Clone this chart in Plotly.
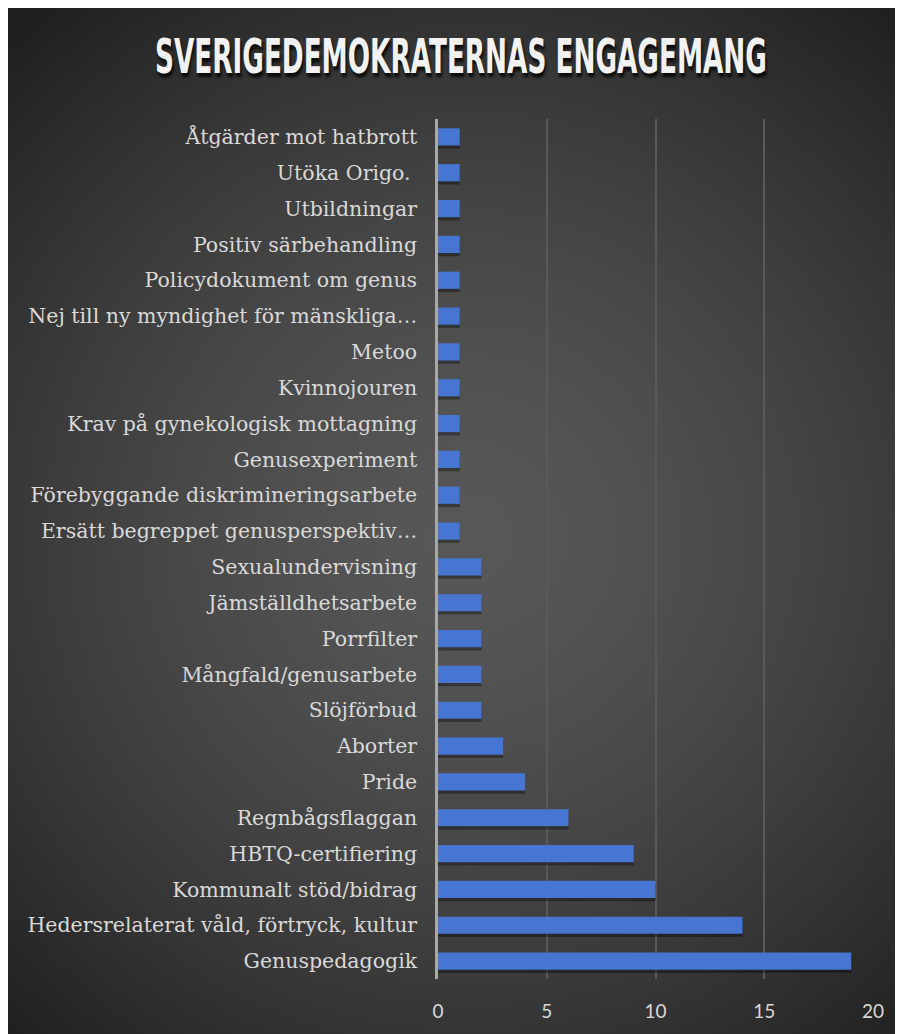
import base64, struct, zlib
import numpy as np
import plotly.graph_objects as go

# Data (bottom to top, as in the chart)
categories = [
    "Genuspedagogik",
    "Hedersrelaterat våld, förtryck, kultur",
    "Kommunalt stöd/bidrag",
    "HBTQ-certifiering",
    "Regnbågsflaggan",
    "Pride",
    "Aborter",
    "Slöjförbud",
    "Mångfald/genusarbete",
    "Porrfilter",
    "Jämställdhetsarbete",
    "Sexualundervisning",
    "Ersätt begreppet genusperspektiv…",
    "Förebyggande diskrimineringsarbete",
    "Genusexperiment",
    "Krav på gynekologisk mottagning",
    "Kvinnojouren",
    "Metoo",
    "Nej till ny myndighet för mänskliga…",
    "Policydokument om genus",
    "Positiv särbehandling",
    "Utbildningar",
    "Utöka Origo.\u00a0",
    "Åtgärder mot hatbrott",
]
values = [19, 14, 10, 9, 6, 4, 3, 2, 2, 2, 2, 2, 1, 1, 1, 1, 1, 1, 1, 1, 1, 1, 1, 1]
x_ticks = [0, 5, 10, 15, 20]
title_text = "SVERIGEDEMOKRATERNAS ENGAGEMANG"

# Figure geometry (figure pixels; page has an 8px body margin)
FW, FH = 903, 1034
ML, MR, MT, MB = 430, 38, 111, 63
PW, PH = FW - ML - MR, FH - MT - MB

# Radial gradient background covering the whole figure
W, H = 226, 259
xs = np.linspace(0, FW, W)
ys = np.linspace(0, FH, H)
XX, YY = np.meshgrid(xs, ys)
cx, cy = 462, 530
R = 690.0
d = np.clip(np.sqrt((XX - cx) ** 2 + (YY - cy) ** 2) / R, 0, 1)
v = 31 + 57 * (1 - d ** 1.5)
arr = np.repeat(v[:, :, None], 3, axis=2).astype(np.uint8)

def chunk(tag, data):
    return struct.pack(">I", len(data)) + tag + data + struct.pack(">I", zlib.crc32(tag + data) & 0xffffffff)

raw = b"".join(b"\x00" + arr[i].tobytes() for i in range(H))
png = (b"\x89PNG\r\n\x1a\n"
       + chunk(b"IHDR", struct.pack(">IIBBBBB", W, H, 8, 2, 0, 0, 0))
       + chunk(b"IDAT", zlib.compress(raw, 9))
       + chunk(b"IEND", b""))
src = "data:image/png;base64," + base64.b64encode(png).decode()

bar_w = 0.48

fig = go.Figure()
# soft shadow
fig.add_trace(go.Bar(
    x=values, y=categories, orientation="h",
    marker=dict(color="rgba(0,0,0,0.35)", line=dict(width=0)),
    width=bar_w, offset=-bar_w / 2 - 0.09, hoverinfo="skip", showlegend=False,
))
fig.add_trace(go.Bar(
    x=values, y=categories, orientation="h",
    marker=dict(color="#4675d2", line=dict(width=0)),
    width=bar_w, offset=-bar_w / 2, showlegend=False,
))

fig.update_layout(
    width=FW, height=FH,
    margin=dict(l=ML, r=MR, t=MT, b=MB),
    paper_bgcolor="#2a2a2a",
    plot_bgcolor="rgba(0,0,0,0)",
    barmode="overlay",
    images=[dict(
        source=src, xref="paper", yref="paper",
        x=-ML / PW, y=1 + MT / PH,
        sizex=FW / PW, sizey=FH / PH,
        xanchor="left", yanchor="top", sizing="stretch", layer="below",
    )],
    title=dict(
        text=title_text,
        x=(453 - ML) / PW, xref="paper", xanchor="center",
        y=1 - 48 / FH, yref="container", yanchor="middle",
        font=dict(family="DejaVu Sans, sans-serif",
                  size=48, color="#f2f2f2", weight="bold",
                  shadow="2px 3px 3px rgba(0,0,0,0.8)"),
    ),
    xaxis=dict(
        range=[0, 20], tickvals=x_ticks, ticktext=[str(t) for t in x_ticks],
        showgrid=True, gridcolor="#595959", gridwidth=1.5,
        zeroline=False, showline=False, ticks="",
        tickfont=dict(family="Lato, Open Sans, sans-serif", size=19, color="#d9d9d9"),
        ticklabelstandoff=19, fixedrange=True,
    ),
    yaxis=dict(
        categoryorder="array", categoryarray=categories,
        range=[-0.5, len(categories) - 0.5],
        showline=True, linecolor="#a8a8a8", linewidth=2.5,
        showgrid=False, ticks="",
        tickfont=dict(family="DejaVu Serif, Georgia, serif", size=20.5, color="#d9d9d9"),
        ticklabelstandoff=14, fixedrange=True,
    ),
)

# Condense the title horizontally (tall, narrow poster-style lettering) and hide page scrollbars
post = """
document.documentElement.style.overflow = 'hidden';
document.body.style.overflow = 'hidden';
var gd = document.getElementById('{plot_id}');
var t = gd.querySelector('.gtitle');
if (t) {
  var bb = t.getBBox();
  var cx = bb.x + bb.width / 2;
  var s = 612 / bb.width;
  t.setAttribute('transform', 'translate(' + cx + ',0) scale(' + s + ',1) translate(' + (-cx) + ',0)');
}
"""

fig.write_html("out.html", post_script=post)
